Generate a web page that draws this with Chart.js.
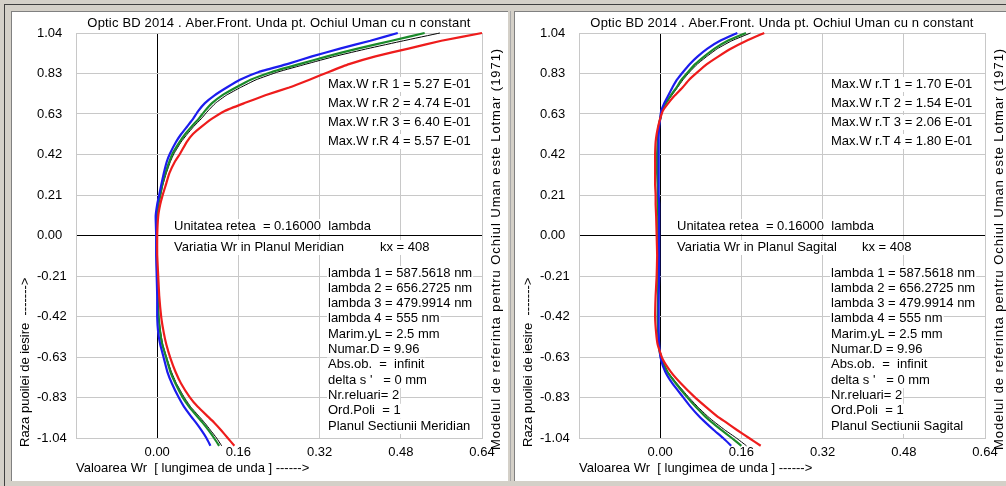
<!DOCTYPE html>
<html>
<head>
<meta charset="utf-8">
<script src="https://cdn.jsdelivr.net/npm/chart.js@4.4.1/dist/chart.umd.min.js"></script>
<style>
body { margin: 0; width: 1006px; height: 486px; background: #d4d0c8; overflow: hidden; position: relative; }
#frame { position: absolute; left: 4px; top: 4px; right: 0; bottom: 0; border-top: 1px solid #404040; border-left: 1px solid #404040; }
.panel { position: absolute; top: 11px; height: 469px; background: #fff; border-top: 1px solid #808080; border-left: 1px solid #808080; overflow: hidden; }
#p1 { left: 11px; width: 496px; }
#p2 { left: 514px; width: 492px; }
.panel canvas { position: absolute; left: 1px; top: 1px; }
#split { position: absolute; left: 510px; top: 11px; width: 1px; height: 470px; background: #a8a8a8; }
</style>
</head>
<body>
<div id="frame"></div>
<div id="split"></div>
<div class="panel" id="p1"><canvas id="merChart" width="493" height="467"></canvas></div>
<div class="panel" id="p2"><canvas id="sagChart" width="493" height="467"></canvas></div>
<script>
// Pupil radius samples (vertical axis)
const pupil = [-1.08, -1.04, -1.00, -0.96, -0.93, -0.88, -0.83, -0.76, -0.70, -0.63, -0.56, -0.50, -0.42, -0.31, -0.21, -0.10,
    0.00, 0.10, 0.16, 0.21, 0.26, 0.32, 0.38, 0.42, 0.48, 0.52, 0.56, 0.60, 0.64, 0.68, 0.72, 0.76, 0.80, 0.84, 0.88, 0.92, 0.96, 1.00, 1.04];

// Wr values, meridian plane (left)
const merR1 = [0.122, 0.112, 0.101, 0.089, 0.079, 0.063, 0.050, 0.036, 0.026, 0.018, 0.010, 0.006, 0.003, 0.001, 0.000, -0.001,
    -0.001, -0.001, 0.002, 0.006, 0.010, 0.016, 0.024, 0.030, 0.044, 0.055, 0.068, 0.082, 0.094, 0.108, 0.128, 0.155, 0.184, 0.226, 0.280, 0.335, 0.395, 0.462, 0.527];
const merR2 = [0.105, 0.097, 0.087, 0.076, 0.067, 0.053, 0.042, 0.029, 0.020, 0.013, 0.006, 0.002, 0.000, 0.000, -0.001, -0.002,
    -0.002, -0.003, 0.000, 0.004, 0.008, 0.013, 0.019, 0.025, 0.037, 0.047, 0.059, 0.071, 0.081, 0.094, 0.113, 0.137, 0.163, 0.200, 0.256, 0.305, 0.360, 0.420, 0.474];
const merR3 = [0.152, 0.139, 0.126, 0.112, 0.100, 0.080, 0.064, 0.047, 0.036, 0.026, 0.018, 0.013, 0.008, 0.004, 0.002, 0.000,
    0.000, 0.002, 0.006, 0.011, 0.017, 0.024, 0.035, 0.045, 0.058, 0.070, 0.088, 0.108, 0.133, 0.172, 0.213, 0.260, 0.300, 0.338, 0.378, 0.430, 0.495, 0.560, 0.640];
const merR4 = [0.127, 0.117, 0.105, 0.093, 0.083, 0.066, 0.053, 0.038, 0.028, 0.019, 0.011, 0.007, 0.003, 0.001, 0.000, -0.001,
    -0.001, 0.000, 0.003, 0.007, 0.011, 0.018, 0.026, 0.033, 0.047, 0.059, 0.072, 0.087, 0.100, 0.115, 0.136, 0.164, 0.195, 0.238, 0.293, 0.350, 0.415, 0.485, 0.557];

// Wr values, sagittal plane (right)
const sagT1 = [0.160, 0.141, 0.121, 0.102, 0.089, 0.070, 0.053, 0.031, 0.014, 0.002, -0.003, -0.004, -0.005, -0.004, -0.004, -0.004,
    -0.004, -0.004, -0.005, -0.005, -0.005, -0.006, -0.006, -0.006, -0.005, -0.004, -0.003, 0.000, 0.003, 0.011, 0.021, 0.032, 0.042, 0.055, 0.069, 0.087, 0.107, 0.133, 0.169];
const sagT2 = [0.140, 0.124, 0.106, 0.089, 0.077, 0.060, 0.045, 0.024, 0.010, 0.001, -0.002, -0.003, -0.003, -0.003, -0.002, -0.002,
    -0.002, -0.002, -0.002, -0.003, -0.003, -0.003, -0.003, -0.003, -0.003, -0.003, -0.002, 0.000, 0.002, 0.008, 0.016, 0.024, 0.033, 0.045, 0.058, 0.074, 0.093, 0.118, 0.152];
const sagT3 = [0.198, 0.175, 0.152, 0.130, 0.113, 0.090, 0.068, 0.041, 0.021, 0.004, -0.005, -0.008, -0.010, -0.009, -0.007, -0.006,
    -0.007, -0.008, -0.009, -0.009, -0.010, -0.010, -0.010, -0.010, -0.009, -0.007, -0.004, 0.000, 0.005, 0.016, 0.029, 0.044, 0.057, 0.074, 0.092, 0.115, 0.140, 0.170, 0.205];
const sagT4 = [0.170, 0.150, 0.128, 0.108, 0.094, 0.074, 0.056, 0.033, 0.015, 0.003, -0.002, -0.003, -0.004, -0.003, -0.003, -0.003,
    -0.003, -0.003, -0.004, -0.004, -0.004, -0.005, -0.005, -0.005, -0.004, -0.003, -0.002, 0.001, 0.004, 0.012, 0.023, 0.034, 0.045, 0.058, 0.073, 0.092, 0.113, 0.141, 0.178];

// Axes
const xTickValues = [-0.16, 0, 0.16, 0.32, 0.48, 0.64];
const xTickLabels = ['', '0.00', '0.16', '0.32', '0.48', '0.64'];
const yTickValues = [-1.04, -0.832, -0.624, -0.416, -0.208, 0, 0.208, 0.416, 0.624, 0.832, 1.04];
const yTickLabels = ['-1.04', '-0.83', '-0.63', '-0.42', '-0.21', '0.00', '0.21', '0.42', '0.63', '0.83', '1.04'];

// Texts
const title = 'Optic BD 2014 . Aber.Front. Unda pt. Ochiul Uman cu n constant';
const xTitle = 'Valoarea Wr  [ lungimea de unda ] ------>';
const yTitle = 'Raza puoilei de iesire  ------->';
const sideTitle = 'Modelul de referinta pentru Ochiul Uman este Lotmar (1971)';
const unitText = 'Unitatea retea  = 0.16000  lambda';
const kxText = 'kx = 408';
const maxMer = ['5.27 E-01', '4.74 E-01', '6.40 E-01', '5.57 E-01'];
const maxSag = ['1.70 E-01', '1.54 E-01', '2.06 E-01', '1.80 E-01'];
const commonInfo = ['lambda 1 = 587.5618 nm', 'lambda 2 = 656.2725 nm', 'lambda 3 = 479.9914 nm', 'lambda 4 = 555 nm',
    'Marim.yL = 2.5 mm', 'Numar.D = 9.96', 'Abs.ob.  =  infinit', "delta s '   = 0 mm", 'Nr.reluari= 2', 'Ord.Poli  = 1'];

const seriesColors = ['#1a8a2a', '#1c1cee', '#ee1c1c', '#000000'];
const seriesWidths = [2.2, 2.2, 2.2, 1];
const drawOrder = [2, 1, 0, 3];

const FAMILY = '"Liberation Sans", Arial, sans-serif';
const FONT = '13px ' + FAMILY;

function boxText(ctx, text, x, y) {
    const w = ctx.measureText(text).width;
    ctx.fillStyle = '#fff';
    ctx.fillRect(x - 1, y - 7, w + 2, 15);
    ctx.fillStyle = '#000';
    ctx.fillText(text, x, y);
    return w;
}

// spread letters so a text spans the given width
function spreadText(ctx, text, width) {
    const w = ctx.measureText(text).width;
    ctx.letterSpacing = ((width - w) / text.length).toFixed(2) + 'px';
}

function notesPlugin(cfg) {
    return {
        id: 'notes',
        afterDraw(chart) {
            const ctx = chart.ctx;
            const a = chart.chartArea;
            ctx.save();
            ctx.textBaseline = 'middle';
            ctx.textAlign = 'left';
            ctx.font = FONT;

            // title
            ctx.save();
            spreadText(ctx, title, 383);
            ctx.textAlign = 'center';
            ctx.fillStyle = '#000';
            ctx.fillText(title, (a.left + a.right) / 2, 10);
            ctx.restore();

            cfg.maxLabels.forEach((v, i) => {
                boxText(ctx, 'Max.W r.' + cfg.letter + ' ' + (i + 1) + ' = ' + v, 315, 71 + i * 19);
            });

            boxText(ctx, unitText, 161, 213);
            boxText(ctx, cfg.variatia, 161, 234);
            boxText(ctx, kxText, cfg.kxX, 234);

            const info = commonInfo.concat([cfg.planul]);
            info.forEach((t, i) => boxText(ctx, t, 315, 260 + i * 15.3));

            // axis titles
            ctx.fillStyle = '#000';
            ctx.fillText(xTitle, a.left, 455);

            ctx.save();
            ctx.translate(12, 434);
            ctx.rotate(-Math.PI / 2);
            ctx.fillText(yTitle, 0, 0);
            ctx.restore();

            ctx.save();
            spreadText(ctx, sideTitle, 402);
            ctx.translate(483, 437);
            ctx.rotate(-Math.PI / 2);
            ctx.fillText(sideTitle, 0, 0);
            ctx.restore();

            ctx.restore();
        }
    };
}

function gridColor(c) {
    return c.tick && c.tick.value === 0 ? '#000000' : '#c8c8c8';
}

function makeChart(id, series, cfg) {
    const datasets = drawOrder.map(i => ({
        data: pupil.map((p, k) => ({ x: series[i][k], y: p })),
        showLine: true,
        borderColor: seriesColors[i],
        borderWidth: seriesWidths[i],
        pointRadius: 0,
        tension: 0.12,
        clip: false
    }));

    return new Chart(document.getElementById(id), {
        type: 'scatter',
        data: { datasets: datasets },
        options: {
            responsive: false,
            animation: false,
            events: [],
            elements: { line: { capBezierPoints: false } },
            layout: { padding: { top: 20, right: 24, bottom: 12, left: 24 } },
            plugins: { legend: { display: false }, tooltip: { enabled: false } },
            scales: {
                x: {
                    type: 'linear',
                    min: -0.16,
                    max: 0.64,
                    afterBuildTicks: s => { s.ticks = xTickValues.map(v => ({ value: v })); },
                    afterFit: s => { s.height = 30; },
                    grid: { color: gridColor, drawTicks: false },
                    border: { color: '#c8c8c8' },
                    ticks: {
                        callback: (v, i) => xTickLabels[i],
                        font: { family: FAMILY, size: 13 },
                        color: '#000',
                        padding: 7,
                        maxRotation: 0,
                        minRotation: 0,
                        autoSkip: false
                    }
                },
                y: {
                    type: 'linear',
                    min: -1.04,
                    max: 1.04,
                    afterBuildTicks: s => { s.ticks = yTickValues.map(v => ({ value: v })); },
                    afterFit: s => { s.width = 39; },
                    grid: { color: gridColor, drawTicks: false },
                    border: { color: '#c8c8c8' },
                    ticks: {
                        callback: (v, i) => yTickLabels[i],
                        font: { family: FAMILY, size: 13 },
                        color: '#000',
                        crossAlign: 'far',
                        autoSkip: false
                    }
                }
            }
        },
        plugins: [notesPlugin(cfg)]
    });
}

makeChart('merChart', [merR1, merR2, merR3, merR4], {
    letter: 'R',
    maxLabels: maxMer,
    variatia: 'Variatia Wr in Planul Meridian',
    kxX: 367,
    planul: 'Planul Sectiunii Meridian'
});

makeChart('sagChart', [sagT1, sagT2, sagT3, sagT4], {
    letter: 'T',
    maxLabels: maxSag,
    variatia: 'Variatia Wr in Planul Sagital',
    kxX: 346,
    planul: 'Planul Sectiunii Sagital'
});
</script>
</body>
</html>
